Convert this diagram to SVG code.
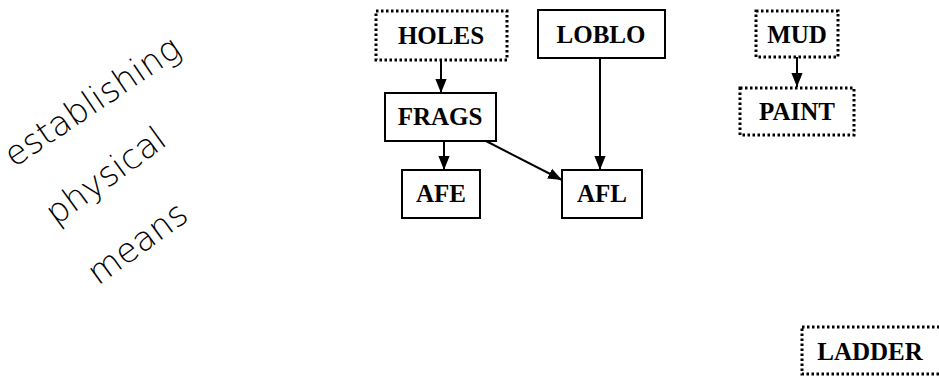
<svg xmlns="http://www.w3.org/2000/svg" width="939" height="377" viewBox="0 0 939 377">
<defs>
<style>
.box{fill:#fff;stroke:#000;stroke-width:2}
.dot{fill:#fff;stroke:#000;stroke-width:3;stroke-dasharray:2.5 2.5}
.lbl{font-family:"Liberation Serif",serif;font-weight:bold;font-size:25px;fill:#000;text-anchor:middle}
.hand{font-family:"DejaVu Sans","Noto Sans",sans-serif;font-size:34px;fill:#000;font-weight:300}
.edge{stroke:#000;stroke-width:2;fill:none;marker-end:url(#ah)}
</style>
<marker id="ah" viewBox="0 0 10 10" refX="10" refY="5" markerWidth="7" markerHeight="7" orient="auto" markerUnits="strokeWidth">
<path d="M0,1 L10,5 L0,9 z" fill="#000"/>
</marker>
</defs>
<rect width="939" height="377" fill="#fff"/>
<g id="connectors">
<line class="edge" x1="441" y1="60" x2="441" y2="93"/>
<line class="edge" x1="444" y1="141" x2="444" y2="170"/>
<line class="edge" x1="486" y1="141" x2="562" y2="180"/>
<line class="edge" x1="600" y1="58" x2="600" y2="170"/>
<line class="edge" x1="797" y1="57" x2="797" y2="87"/>
</g>
<g id="HOLES"><rect class="dot" x="376" y="11" width="131" height="49"/><text class="lbl" x="441" y="44">HOLES</text></g>
<g id="LOBLO"><rect class="box" x="538" y="10" width="127" height="48"/><text class="lbl" x="601" y="43">LOBLO</text></g>
<g id="FRAGS"><rect class="box" x="385" y="93" width="111" height="48"/><text class="lbl" x="440" y="125">FRAGS</text></g>
<g id="AFE"><rect class="box" x="402" y="170" width="78" height="48"/><text class="lbl" x="441" y="202">AFE</text></g>
<g id="AFL"><rect class="box" x="562" y="170" width="80" height="48"/><text class="lbl" x="602" y="202">AFL</text></g>
<g id="MUD"><rect class="dot" x="756" y="11" width="82" height="46"/><text class="lbl" x="797" y="43">MUD</text></g>
<g id="PAINT"><rect class="dot" x="740" y="88" width="114" height="47"/><text class="lbl" x="797" y="120">PAINT</text></g>
<g id="LADDER"><rect class="dot" x="802" y="327" width="140" height="47"/><text class="lbl" x="870" y="360">LADDER</text></g>
<g id="note">
<text class="hand" transform="translate(14,168) rotate(-34)">establishing</text>
<text class="hand" font-size="33" transform="translate(56,226) rotate(-36)">physical</text>
<text class="hand" transform="translate(98,286) rotate(-36)">means</text>
</g>
</svg>
